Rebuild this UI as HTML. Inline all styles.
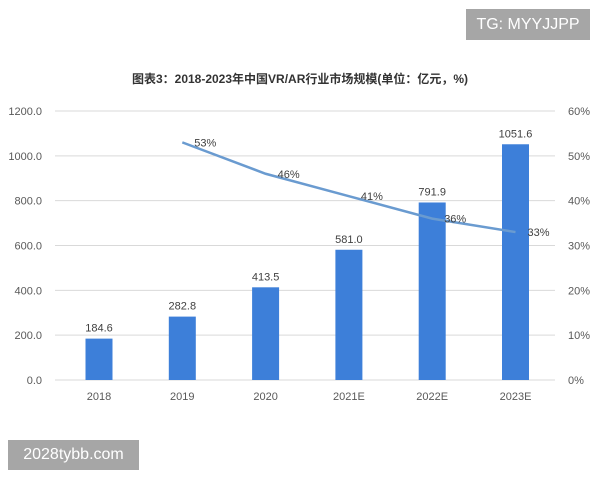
<!DOCTYPE html>
<html><head><meta charset="utf-8"><style>
body{margin:0;width:600px;height:480px;background:#fff;overflow:hidden;font-family:"Liberation Sans","Noto Sans CJK SC",sans-serif;position:relative}
.badge{position:absolute;background:#a6a6a6;color:#fff;font-size:16px;display:flex;align-items:center;justify-content:center}
</style></head><body>
<div class="badge" style="left:466px;top:9px;width:124px;height:31px">TG: MYYJJPP</div>
<div class="badge" style="left:8px;top:440px;width:131px;height:30px">2028tybb.com</div>
<svg id="chart" width="600" height="480" style="position:absolute;left:0;top:0">
<text x="300" y="83" text-anchor="middle" font-size="12" font-weight="bold" fill="#333">图表3：2018-2023年中国VR/AR行业市场规模(单位：亿元，%)</text>
</svg>
<script>
const categories=["2018","2019","2020","2021E","2022E","2023E"];
const marketSize=[184.6,282.8,413.5,581.0,791.9,1051.6];
const growthYears=["2019","2020","2021E","2022E","2023E"];
const growthRate=[53,46,41,36,33];
const leftTicks=[0,200,400,600,800,1000,1200];
const rightTicks=[0,10,20,30,40,50,60];
const svg=document.getElementById('chart');
const NS='http://www.w3.org/2000/svg';
const y0=380,y1=111,xL=55,xR=555;
const yL=v=>y0-v/1200*(y0-y1);
const yR=v=>y0-v/60*(y0-y1);
const xC=i=>99+i*83.3;
function mk(t,a,txt){const e=document.createElementNS(NS,t);for(const k in a)e.setAttribute(k,a[k]);if(txt!=null)e.textContent=txt;svg.appendChild(e);return e;}
leftTicks.forEach((v,i)=>{
 const g=mk('line',{x1:xL,x2:xR,y1:yL(v),y2:yL(v),stroke:'#d9d9d9','stroke-width':1});
 
 
 const t=mk('text',{x:42,y:yL(v)+4,'text-anchor':'end','font-size':11,fill:'#595959'},v.toFixed(1));
 
 
});
rightTicks.forEach(v=>{
 const t=mk('text',{x:568,y:yR(v)+4,'font-size':11,fill:'#595959'},v+'%');
 
 
});
categories.forEach((c,i)=>{
 const b=mk('rect',{x:xC(i)-13.5,y:yL(marketSize[i]),width:27,height:y0-yL(marketSize[i]),fill:'#3d7fd9'});
 
 
 const l=mk('text',{x:xC(i),y:yL(marketSize[i])-7,'text-anchor':'middle','font-size':11,fill:'#404040'},marketSize[i].toFixed(1));
 
 
 const x=mk('text',{x:xC(i),y:400,'text-anchor':'middle','font-size':11,fill:'#595959'},c);
 
 
});
const pts=growthYears.map((c,j)=>[xC(categories.indexOf(c)),yR(growthRate[j])]);
const ln=mk('polyline',{points:pts.map(p=>p.join(',')).join(' '),fill:'none',stroke:'#6a9bd0','stroke-width':2.5});


pts.forEach((p,j)=>{
 const t=mk('text',{x:p[0]+12,y:p[1]+4,'font-size':11,fill:'#404040'},growthRate[j]+'%');
 
 
});
</script>
</body></html>
